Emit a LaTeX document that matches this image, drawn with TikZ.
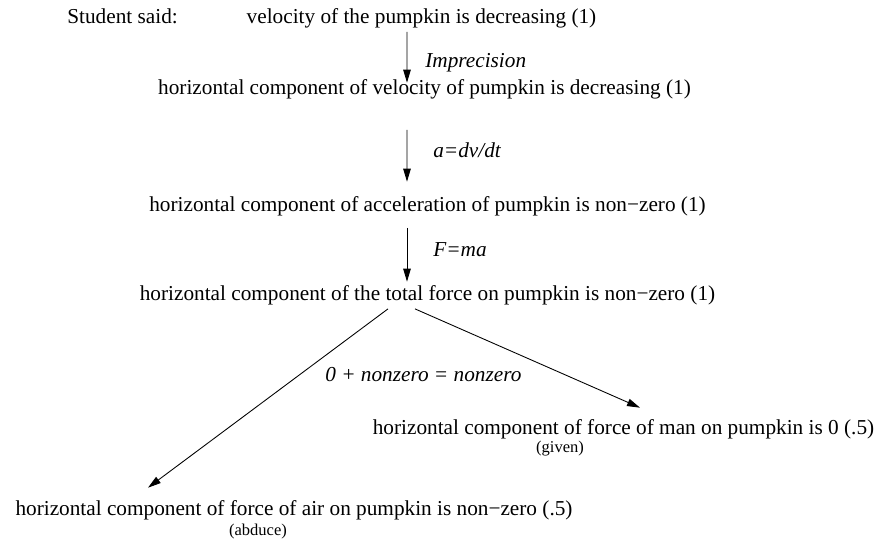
\documentclass[tikz,border=0pt]{standalone}
\usepackage{fontspec}
\setmainfont{Liberation Serif}
\usepackage{tikz}
\usetikzlibrary{arrows.meta}

\begin{document}
\begin{tikzpicture}[
    claim/.style={inner sep=0pt, anchor=base, font=\fontsize{12.1}{14}\selectfont},
    rulelabel/.style={inner sep=0pt, anchor=base west, font=\fontsize{12.1}{14}\selectfont\itshape},
    source/.style={inner sep=0pt, anchor=base, font=\fontsize{9.4}{11}\selectfont},
    flow/.style={line width=0.5pt, -{Triangle[length=0.26cm, width=0.15cm]}}]
  \useasboundingbox (0,0) rectangle (17.54,-10.76);
  % chain of claims
  \node[claim, anchor=base west] (said) at (1.34,-0.46) {Student said:};
  \node[claim] (v1) at (8.43,-0.46) {velocity of the pumpkin is decreasing (1)};
  \node[claim] (v2) at (8.49,-1.88) {horizontal component of velocity of pumpkin is decreasing (1)};
  \node[claim] (v3) at (8.55,-4.22) {horizontal component of acceleration of pumpkin is non−zero (1)};
  \node[claim] (v4) at (8.55,-6.00) {horizontal component of the total force on pumpkin is non−zero (1)};
  \node[claim] (man) at (12.47,-8.68) {horizontal component of force of man on pumpkin is 0 (.5)};
  \node[claim] (air) at (5.88,-10.30) {horizontal component of force of air on pumpkin is non−zero (.5)};
  \node[source] (given) at (11.20,-9.04) {(given)};
  \node[source] (abduce) at (5.16,-10.70) {(abduce)};
  % rules
  \node[rulelabel] (imp) at (8.50,-1.34) {Imprecision};
  \node[rulelabel] (deriv) at (8.66,-3.14) {a=dv/dt};
  \node[rulelabel] (newton) at (8.66,-5.12) {F=ma};
  \node[rulelabel] (sum) at (6.50,-7.62) {0 + nonzero = nonzero};
  % inferences
  \draw[flow] ([xshift=-0.29cm, yshift=-0.08cm]v1.south) -- ([xshift=-0.35cm, yshift=-0.08cm]v2.north);
  \draw[flow] ([xshift=-0.35cm, yshift=-0.62cm]v2.south) -- ([xshift=-0.41cm, yshift=0.28cm]v3.north);
  \draw[flow] ([xshift=-0.41cm, yshift=-0.24cm]v3.south) -- ([xshift=-0.41cm, yshift=0.06cm]v4.north);
  \draw[flow] ([xshift=-0.79cm, yshift=-0.08cm]v4.south) -- ([xshift=-2.92cm, yshift=0.24cm]air.north);
  \draw[flow] ([xshift=-0.25cm, yshift=-0.08cm]v4.south) -- ([xshift=0.33cm, yshift=0.22cm]man.north);
\end{tikzpicture}
\end{document}
